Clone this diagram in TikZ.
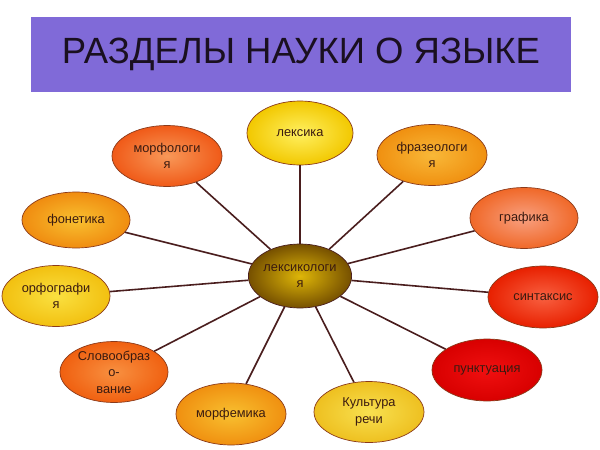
\documentclass[tikz,border=0pt]{standalone}
\usepackage{fontspec}
\setmainfont{Liberation Sans}
\usetikzlibrary{shapes.geometric}
\definecolor{titlefill}{HTML}{806AD8}
\definecolor{titletext}{HTML}{1A1020}
\definecolor{spoke}{HTML}{4A1E1E}
\definecolor{rim}{HTML}{8B3A1A}
\definecolor{labeltext}{HTML}{3A1A10}
\begin{document}
\begin{tikzpicture}[x=1pt,y=-1pt,
  titlebox/.style={rectangle, fill=titlefill, minimum width=540pt, minimum height=75pt,
    inner sep=0pt, text=titletext, font=\fontsize{36.5}{40}\selectfont},
  blob/.style={ellipse, draw=rim, line width=0.7pt, minimum width=109pt, minimum height=61pt,
    inner sep=0pt, align=center, text=labeltext, font=\fontsize{12.8}{16.5}\selectfont},
  hubstyle/.style={blob, minimum width=100pt, minimum height=64pt, draw=spoke},
  conn/.style={draw=spoke, line width=1.6pt}
]
\useasboundingbox (0,0) rectangle (600,450);
\fill[white] (0,0) rectangle (600,450);
\node[titlebox] (title) at (301,54.5) {РАЗДЕЛЫ НАУКИ О ЯЗЫКЕ};

\node[hubstyle, inner color={rgb,255:red,222;green,182;blue,8}, outer color={rgb,255:red,118;green,80;blue,0}] (hub) at (300,276) {лексикологи\\я};

\node[blob, minimum width=106pt, minimum height=64pt, inner color={rgb,255:red,255;green,240;blue,96}, outer color={rgb,255:red,242;green,200;blue,0}] (lex) at (300,133) {лексика};
\node[blob, minimum width=110pt, inner color={rgb,255:red,248;green,152;blue,88}, outer color={rgb,255:red,240;green,90;blue,24}] (morf) at (167,156) {морфологи\\я};
\node[blob, minimum width=110pt, inner color={rgb,255:red,248;green,184;blue,56}, outer color={rgb,255:red,240;green,144;blue,16}] (fraz) at (432,155) {фразеологи\\я};
\node[blob, minimum width=108pt, minimum height=56pt, inner color={rgb,255:red,248;green,192;blue,48}, outer color={rgb,255:red,240;green,140;blue,16}] (fon) at (76,220) {фонетика};
\node[blob, minimum width=108pt, inner color={rgb,255:red,250;green,224;blue,64}, outer color={rgb,255:red,242;green,192;blue,16}] (orf) at (56,296) {орфографи\\я};
\node[blob, minimum width=108pt, inner color={rgb,255:red,248;green,160;blue,128}, outer color={rgb,255:red,240;green,104;blue,40}] (graf) at (524,218) {графика};
\node[blob, minimum width=110pt, minimum height=62pt, inner color={rgb,255:red,248;green,96;blue,64}, outer color={rgb,255:red,232;green,32;blue,0}] (sint) at (543,297) {синтаксис};
\node[blob, minimum width=110pt, minimum height=62pt, inner color={rgb,255:red,240;green,16;blue,16}, outer color={rgb,255:red,216;green,0;blue,0}] (punk) at (487,370) {пунктуация};
\node[blob, minimum width=110pt, inner color={rgb,255:red,248;green,224;blue,80}, outer color={rgb,255:red,238;green,192;blue,32}] (kult) at (369,412) {Культура\\речи};
\node[blob, minimum width=110pt, minimum height=62pt, inner color={rgb,255:red,248;green,192;blue,48}, outer color={rgb,255:red,240;green,144;blue,16}] (morfem) at (231,414) {морфемика};
\node[blob, minimum width=108pt, inner color={rgb,255:red,248;green,144;blue,64}, outer color={rgb,255:red,240;green,96;blue,16}] (slov) at (114,372) {Словообраз\\о-\\вание};

\foreach \n in {lex,morf,fraz,fon,orf,graf,sint,punk,kult,morfem,slov}
  \draw[conn] (hub) -- (\n);
\end{tikzpicture}
\end{document}
